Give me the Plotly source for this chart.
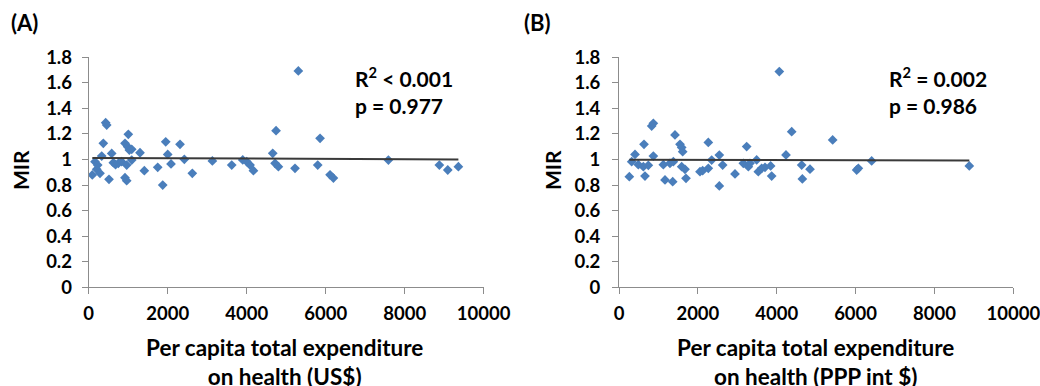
import numpy as np
import plotly.graph_objects as go

# Panel A: per capita total expenditure on health (US$) vs MIR
x_A = [91, 160, 203, 228, 286, 329, 370, 430, 456, 514, 582, 623, 680, 750, 835, 919, 919, 962, 962,
       987, 1003, 1028, 1089, 1089, 1299, 1408, 1747, 1874, 1950, 2000, 2084, 2312, 2421, 2623, 3131,
       3621, 3900, 4000, 4085, 4170, 4659, 4718, 4743, 4802, 5223, 5307, 5798, 5857, 6110, 6195, 7587,
       8877, 9090, 9359]
y_A = [0.879, 0.983, 0.923, 0.957, 0.892, 1.027, 1.127, 1.288, 1.27, 0.845, 1.048, 0.975, 0.96, 0.97,
       0.983, 1.127, 0.858, 0.957, 0.834, 1.10, 1.197, 1.074, 1.08, 0.996, 1.053, 0.913, 0.939, 0.80,
       1.139, 1.04, 0.965, 1.119, 1.002, 0.892, 0.989, 0.957, 0.997, 0.984, 0.957, 0.913, 1.049, 0.97,
       1.226, 0.944, 0.931, 1.693, 0.957, 1.166, 0.88, 0.855, 0.996, 0.957, 0.918, 0.944]

# Panel B: per capita total expenditure on health (PPP int $) vs MIR
x_B = [262, 322, 406, 490, 617, 634, 659, 744, 829, 871, 871, 1124, 1167, 1293, 1362, 1378, 1420, 1547,
       1590, 1590, 1615, 1674, 1699, 2054, 2122, 2265, 2265, 2350, 2544, 2544, 2629, 2942, 3153, 3238,
       3280, 3322, 3491, 3533, 3618, 3703, 3846, 3872, 4066, 4235, 4380, 4633, 4650, 4844, 5419, 6028,
       6070, 6408, 8884]
y_B = [0.866, 0.983, 1.04, 0.96, 0.944, 1.119, 0.871, 0.955, 1.262, 1.283, 1.027, 0.96, 0.84, 0.97,
       0.827, 0.983, 1.192, 1.119, 1.095, 0.944, 1.061, 0.923, 0.853, 0.905, 0.913, 1.134, 0.931, 0.996,
       1.035, 0.793, 0.957, 0.887, 0.97, 1.101, 0.944, 0.97, 0.997, 0.905, 0.931, 0.939, 0.95, 0.871,
       1.688, 1.036, 1.218, 0.957, 0.848, 0.924, 1.153, 0.918, 0.931, 0.989, 0.95]

x_ticks = [0, 2000, 4000, 6000, 8000, 10000]
x_ticktext = ["0", "2000", "4000", "6000", "8000", "10000"]
y_ticks = [0, 0.2, 0.4, 0.6, 0.8, 1.0, 1.2, 1.4, 1.6, 1.8]
y_ticktext = ["0", "0.2", "0.4", "0.6", "0.8", "1", "1.2", "1.4", "1.6", "1.8"]

panel_labels = ["(A)", "(B)"]
stats_A = ["R<sup>2</sup> < 0.001", "p = 0.977"]
stats_B = ["R<sup>2</sup> = 0.002", "p = 0.986"]
xtitle_A = "Per capita total expenditure<br>on health (US$)"
xtitle_B = "Per capita total expenditure<br>on health (PPP int $)"
ytitle = "MIR"

FONT = "Lato, 'Open Sans', sans-serif"
BLUE = "#4A7EBB"
GREY = "#8C8C8C"

W, H = 1040, 386
def px(x): return x / W
def py(y): return 1 - y / H

fig = go.Figure()

def add_panel(xs, ys, xa, ya):
    fig.add_trace(go.Scatter(x=xs, y=ys, mode="markers", xaxis=xa, yaxis=ya,
                             marker=dict(symbol="diamond", size=7.5, color=BLUE,
                                         line=dict(width=0)),
                             showlegend=False, hoverinfo="x+y"))
    slope, intercept = np.polyfit(np.array(xs, float), np.array(ys, float), 1)
    lx = np.array([min(xs), max(xs)], float)
    fig.add_trace(go.Scatter(x=lx, y=intercept + slope * lx, mode="lines", xaxis=xa, yaxis=ya,
                             line=dict(color="#3A3A3A", width=2), showlegend=False,
                             hoverinfo="skip"))

add_panel(x_A, y_A, "x", "y")
add_panel(x_B, y_B, "x2", "y2")

ydom = [py(287.3), py(57.3)]
axis_common = dict(showgrid=False, zeroline=False, showline=True, linecolor=GREY, linewidth=1,
                   ticks="outside", tickcolor=GREY, ticklen=6, tickwidth=1, automargin=False,
                   tickfont=dict(family=FONT, size=18.5, color="#000000", weight="bold"),
                   ticklabeloverflow="allow", fixedrange=True)

fig.update_layout(
    template="none",
    width=W, height=H, margin=dict(l=0, r=0, t=0, b=0, pad=0),
    paper_bgcolor="white", plot_bgcolor="white",
    font=dict(family=FONT, color="#000000"),
    xaxis=dict(domain=[px(88.7), px(483.7)], range=[0, 10000], tickvals=x_ticks,
               ticktext=x_ticktext, anchor="y", ticklabelstandoff=3, **axis_common),
    yaxis=dict(domain=ydom, range=[0, 1.8], tickvals=y_ticks, ticktext=y_ticktext,
               anchor="x", ticklabelstandoff=6, **axis_common),
    xaxis2=dict(domain=[px(619), px(1013.3)], range=[0, 10000], tickvals=x_ticks,
                ticktext=x_ticktext, anchor="y2", ticklabelstandoff=3, **axis_common),
    yaxis2=dict(domain=ydom, range=[0, 1.8], tickvals=y_ticks, ticktext=y_ticktext,
                anchor="x2", ticklabelstandoff=8, **axis_common),
)

bold = dict(family=FONT, color="#000000", weight="bold")
ann = []
# panel labels
ann.append(dict(text=panel_labels[0], x=px(9), y=py(23), xanchor="left", yanchor="middle",
                font=dict(size=22, **bold)))
ann.append(dict(text=panel_labels[1], x=px(522), y=py(23), xanchor="left", yanchor="middle",
                font=dict(size=22, **bold)))
# stats
for lines, left in ((stats_A, 353), (stats_B, 887)):
    ann.append(dict(text=lines[0], x=px(left), y=py(77), xanchor="left", yanchor="middle",
                    font=dict(size=21, **bold)))
    ann.append(dict(text=lines[1], x=px(left), y=py(106), xanchor="left", yanchor="middle",
                    font=dict(size=21, **bold)))
# axis titles
ann.append(dict(text=xtitle_A, x=px(284), y=py(362), xanchor="center", yanchor="middle",
                font=dict(size=22.5, **bold)))
ann.append(dict(text=xtitle_B, x=px(815), y=py(362), xanchor="center", yanchor="middle",
                font=dict(size=22.5, **bold)))
ann.append(dict(text=ytitle, x=px(20), y=py(170), xanchor="center", yanchor="middle",
                textangle=-90, font=dict(size=21, **bold)))
ann.append(dict(text=ytitle, x=px(552), y=py(170), xanchor="center", yanchor="middle",
                textangle=-90, font=dict(size=21, **bold)))
for a in ann:
    a.update(xref="paper", yref="paper", showarrow=False)
fig.update_layout(annotations=ann)

fig.write_html("out.html", config={"displayModeBar": False},
               post_script="document.body.style.margin='0';document.body.style.overflow='hidden';")
